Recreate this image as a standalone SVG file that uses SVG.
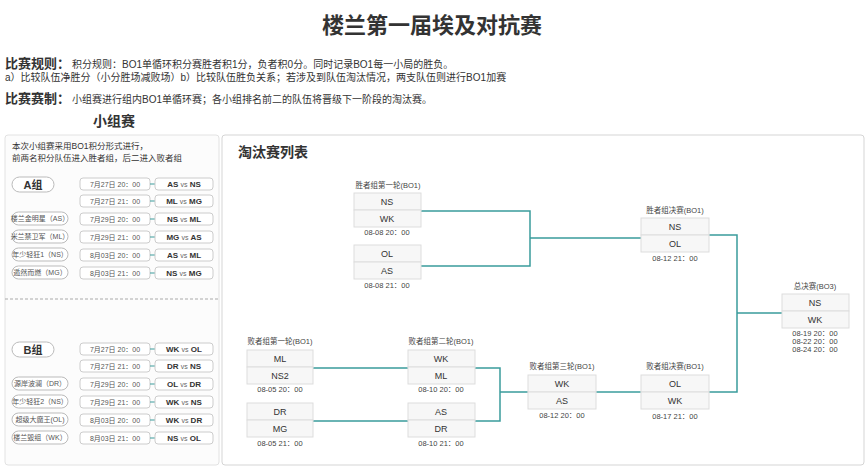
<svg xmlns="http://www.w3.org/2000/svg" width="865" height="466" viewBox="0 0 865 466">
<style>
text{font-family:"Liberation Sans","Noto Sans CJK SC",sans-serif;fill:#333}
.t{font-size:22px;font-weight:bold;text-anchor:middle}
.h{font-size:13px;font-weight:bold}
.s{font-size:10px}
.tiny{font-size:7px;text-anchor:middle;fill:#555}
.pill{fill:#fff;stroke:#bbb;stroke-width:1}
.box{fill:#fff;stroke:#ccc;stroke-width:1}
.m{font-size:8px;font-weight:bold;text-anchor:middle}
.vs{font-weight:normal;font-size:7px;fill:#666}
.cell{fill:#f7f7f7;stroke:#ddd;stroke-width:1}
.team{font-size:9px;text-anchor:middle}
.lab{font-size:7.5px;text-anchor:middle;fill:#444}
.dt{font-size:7.5px;text-anchor:middle;fill:#444}
.ln{fill:none;stroke:#3a9c9c;stroke-width:1.5}
.sl{stroke:#3a9c9c;stroke-width:1}
</style>
<rect width="865" height="466" fill="#fff"/>
<text class="t" x="432" y="33">楼兰第一届埃及对抗赛</text>
<text x="5" y="68"><tspan class="h">比赛规则：</tspan><tspan class="s" dx="2">积分规则：BO1单循环积分赛胜者积1分，负者积0分。同时记录BO1每一小局的胜负。</tspan></text>
<text class="s" x="5" y="81">a）比较队伍净胜分（小分胜场减败场）b）比较队伍胜负关系；若涉及到队伍淘汰情况，两支队伍则进行BO1加赛</text>
<text x="5" y="103"><tspan class="h">比赛赛制：</tspan><tspan class="s" dx="2">小组赛进行组内BO1单循环赛；各小组排名前二的队伍将晋级下一阶段的淘汰赛。</tspan></text>
<text x="114" y="126" style="font-size:14px;font-weight:bold;text-anchor:middle">小组赛</text>

<g id="group-panel">
<rect x="5" y="135" width="214" height="330" rx="3" fill="#fcfcfc" stroke="#e2e2e2"/>
<text x="12" y="149" style="font-size:8.5px">本次小组赛采用BO1积分形式进行，</text>
<text x="12" y="161" style="font-size:8.5px">前两名积分队伍进入胜者组，后二进入败者组</text>
<line x1="5" y1="299" x2="219" y2="299" stroke="#aaa" stroke-dasharray="3,2"/>
</g>

<g id="groupA">
<rect class="pill" x="12" y="177" width="42" height="15" rx="7.5"/>
<text x="33" y="189" style="font-size:11px;font-weight:bold;text-anchor:middle">A组</text>
<rect class="pill" x="12" y="212" width="56" height="13" rx="6.5"/><text class="tiny" x="40" y="221">楼兰金明星（AS）</text>
<rect class="pill" x="12" y="230" width="56" height="13" rx="6.5"/><text class="tiny" x="40" y="239">米兰禁卫军（ML）</text>
<rect class="pill" x="12" y="248" width="56" height="13" rx="6.5"/><text class="tiny" x="40" y="257">年少轻狂1（NS）</text>
<rect class="pill" x="12" y="266" width="56" height="13" rx="6.5"/><text class="tiny" x="40" y="275">遁然而燃（MG）</text>
<g id="a1"><rect class="box" x="80" y="178" width="70" height="12" rx="3"/><text class="tiny" x="115" y="187">7月27日 20：00</text><line class="sl" x1="150" y1="184" x2="155" y2="184"/><rect class="box" x="155" y="178" width="58" height="12" rx="3"/><text class="m" x="184" y="187">AS <tspan class="vs">vs</tspan> NS</text></g>
<g id="a2"><rect class="box" x="80" y="195" width="70" height="12" rx="3"/><text class="tiny" x="115" y="204">7月27日 21：00</text><line class="sl" x1="150" y1="201" x2="155" y2="201"/><rect class="box" x="155" y="195" width="58" height="12" rx="3"/><text class="m" x="184" y="204">ML <tspan class="vs">vs</tspan> MG</text></g>
<g id="a3"><rect class="box" x="80" y="213" width="70" height="12" rx="3"/><text class="tiny" x="115" y="222">7月29日 20：00</text><line class="sl" x1="150" y1="219" x2="155" y2="219"/><rect class="box" x="155" y="213" width="58" height="12" rx="3"/><text class="m" x="184" y="222">NS <tspan class="vs">vs</tspan> ML</text></g>
<g id="a4"><rect class="box" x="80" y="231" width="70" height="12" rx="3"/><text class="tiny" x="115" y="240">7月29日 21：00</text><line class="sl" x1="150" y1="237" x2="155" y2="237"/><rect class="box" x="155" y="231" width="58" height="12" rx="3"/><text class="m" x="184" y="240">MG <tspan class="vs">vs</tspan> AS</text></g>
<g id="a5"><rect class="box" x="80" y="249" width="70" height="12" rx="3"/><text class="tiny" x="115" y="258">8月03日 20：00</text><line class="sl" x1="150" y1="255" x2="155" y2="255"/><rect class="box" x="155" y="249" width="58" height="12" rx="3"/><text class="m" x="184" y="258">AS <tspan class="vs">vs</tspan> ML</text></g>
<g id="a6"><rect class="box" x="80" y="267" width="70" height="12" rx="3"/><text class="tiny" x="115" y="276">8月03日 21：00</text><line class="sl" x1="150" y1="273" x2="155" y2="273"/><rect class="box" x="155" y="267" width="58" height="12" rx="3"/><text class="m" x="184" y="276">NS <tspan class="vs">vs</tspan> MG</text></g>
</g>

<g id="groupB">
<rect class="pill" x="12" y="342" width="42" height="15" rx="7.5"/>
<text x="33" y="354" style="font-size:11px;font-weight:bold;text-anchor:middle">B组</text>
<rect class="pill" x="12" y="377" width="56" height="13" rx="6.5"/><text class="tiny" x="40" y="386">源岸波澜（DR）</text>
<rect class="pill" x="12" y="395" width="56" height="13" rx="6.5"/><text class="tiny" x="40" y="404">年少轻狂2（NS）</text>
<rect class="pill" x="12" y="413" width="56" height="13" rx="6.5"/><text class="tiny" x="40" y="422">超级大魔王(OL)</text>
<rect class="pill" x="12" y="431" width="56" height="13" rx="6.5"/><text class="tiny" x="40" y="440">楼兰毁组（WK）</text>
<g id="b1"><rect class="box" x="80" y="343" width="70" height="12" rx="3"/><text class="tiny" x="115" y="352">7月27日 20：00</text><line class="sl" x1="150" y1="349" x2="155" y2="349"/><rect class="box" x="155" y="343" width="58" height="12" rx="3"/><text class="m" x="184" y="352">WK <tspan class="vs">vs</tspan> OL</text></g>
<g id="b2"><rect class="box" x="80" y="360" width="70" height="12" rx="3"/><text class="tiny" x="115" y="369">7月27日 21：00</text><line class="sl" x1="150" y1="366" x2="155" y2="366"/><rect class="box" x="155" y="360" width="58" height="12" rx="3"/><text class="m" x="184" y="369">DR <tspan class="vs">vs</tspan> NS</text></g>
<g id="b3"><rect class="box" x="80" y="378" width="70" height="12" rx="3"/><text class="tiny" x="115" y="387">7月29日 20：00</text><line class="sl" x1="150" y1="384" x2="155" y2="384"/><rect class="box" x="155" y="378" width="58" height="12" rx="3"/><text class="m" x="184" y="387">OL <tspan class="vs">vs</tspan> DR</text></g>
<g id="b4"><rect class="box" x="80" y="396" width="70" height="12" rx="3"/><text class="tiny" x="115" y="405">7月29日 21：00</text><line class="sl" x1="150" y1="402" x2="155" y2="402"/><rect class="box" x="155" y="396" width="58" height="12" rx="3"/><text class="m" x="184" y="405">WK <tspan class="vs">vs</tspan> NS</text></g>
<g id="b5"><rect class="box" x="80" y="414" width="70" height="12" rx="3"/><text class="tiny" x="115" y="423">8月03日 20：00</text><line class="sl" x1="150" y1="420" x2="155" y2="420"/><rect class="box" x="155" y="414" width="58" height="12" rx="3"/><text class="m" x="184" y="423">WK <tspan class="vs">vs</tspan> DR</text></g>
<g id="b6"><rect class="box" x="80" y="432" width="70" height="12" rx="3"/><text class="tiny" x="115" y="441">8月03日 21：00</text><line class="sl" x1="150" y1="438" x2="155" y2="438"/><rect class="box" x="155" y="432" width="58" height="12" rx="3"/><text class="m" x="184" y="441">NS <tspan class="vs">vs</tspan> OL</text></g>
</g>

<g id="knockout-panel">
<rect x="222" y="135" width="642" height="330" rx="3" fill="#fff" stroke="#d5d5d5"/>
<text x="238" y="157" style="font-size:14px;font-weight:bold">淘汰赛列表</text>
</g>

<g id="connectors">
<path class="ln" d="M421 211H530V266H421M530 238H641"/>
<path class="ln" d="M709 235H737V392H709M737 313H782"/>
<path class="ln" d="M313 368H408M313 421H408M475 368H500V421H475M500 392H528"/>
<path class="ln" d="M596 392H641"/>
</g>

<g id="wr1a"><text class="lab" x="388" y="188">胜者组第一轮(BO1)</text><rect class="cell" x="354" y="193" width="67" height="17"/><rect class="cell" x="354" y="210" width="67" height="17"/><text class="team" x="387" y="205">NS</text><text class="team" x="387" y="222">WK</text><text class="dt" x="387" y="235">08-08 20：00</text></g>
<g id="wr1b"><text/><rect class="cell" x="354" y="245" width="67" height="17"/><rect class="cell" x="354" y="262" width="67" height="17"/><text class="team" x="387" y="257">OL</text><text class="team" x="387" y="274">AS</text><text class="dt" x="387" y="288">08-08 21：00</text></g>
<g id="wf"><text class="lab" x="675" y="213">胜者组决赛(BO1)</text><rect class="cell" x="641" y="218" width="68" height="17"/><rect class="cell" x="641" y="235" width="68" height="17"/><text class="team" x="675" y="230">NS</text><text class="team" x="675" y="247">OL</text><text class="dt" x="675" y="261">08-12 21：00</text></g>
<g id="gf"><text class="lab" x="815" y="289">总决赛(BO3)</text><rect class="cell" x="782" y="294" width="67" height="17"/><rect class="cell" x="782" y="311" width="67" height="17"/><text class="team" x="815" y="306">NS</text><text class="team" x="815" y="323">WK</text><text class="dt" x="815" y="336">08-19 20：00</text><text class="dt" x="815" y="344">08-22 20：00</text><text class="dt" x="815" y="352">08-24 20：00</text></g>
<g id="lr1a"><text class="lab" x="280" y="344">败者组第一轮(BO1)</text><rect class="cell" x="247" y="350" width="66" height="17"/><rect class="cell" x="247" y="367" width="66" height="17"/><text class="team" x="280" y="362">ML</text><text class="team" x="280" y="379">NS2</text><text class="dt" x="280" y="392">08-05 20：00</text></g>
<g id="lr1b"><rect class="cell" x="247" y="403" width="66" height="17"/><rect class="cell" x="247" y="420" width="66" height="17"/><text class="team" x="280" y="415">DR</text><text class="team" x="280" y="432">MG</text><text class="dt" x="280" y="446">08-05 21：00</text></g>
<g id="lr2a"><text class="lab" x="441" y="344">败者组第二轮(BO1)</text><rect class="cell" x="408" y="350" width="67" height="17"/><rect class="cell" x="408" y="367" width="67" height="17"/><text class="team" x="441" y="362">WK</text><text class="team" x="441" y="379">ML</text><text class="dt" x="441" y="392">08-10 20：00</text></g>
<g id="lr2b"><rect class="cell" x="408" y="403" width="67" height="17"/><rect class="cell" x="408" y="420" width="67" height="17"/><text class="team" x="441" y="415">AS</text><text class="team" x="441" y="432">DR</text><text class="dt" x="441" y="446">08-10 21：00</text></g>
<g id="lr3"><text class="lab" x="562" y="369">败者组第三轮(BO1)</text><rect class="cell" x="528" y="375" width="68" height="17"/><rect class="cell" x="528" y="392" width="68" height="17"/><text class="team" x="562" y="387">WK</text><text class="team" x="562" y="404">AS</text><text class="dt" x="562" y="418">08-12 20：00</text></g>
<g id="lf"><text class="lab" x="675" y="369">败者组决赛(BO1)</text><rect class="cell" x="641" y="375" width="68" height="17"/><rect class="cell" x="641" y="392" width="68" height="17"/><text class="team" x="675" y="387">OL</text><text class="team" x="675" y="404">WK</text><text class="dt" x="675" y="419">08-17 21：00</text></g>
</svg>
